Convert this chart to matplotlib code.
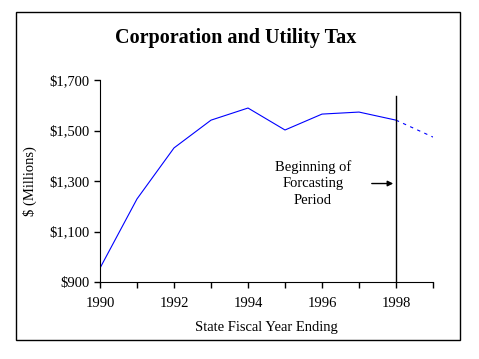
import matplotlib
matplotlib.use("Agg")
import matplotlib.pyplot as plt
from matplotlib.patches import Rectangle
from matplotlib.ticker import FuncFormatter, MultipleLocator

plt.rcParams['font.family'] = ['Liberation Serif', 'DejaVu Serif']

# actual collections
years = [1990, 1991, 1992, 1993, 1994, 1995, 1996, 1997, 1998]
revenue = [955, 1229, 1431, 1541, 1589, 1502, 1565, 1573, 1541]
# forecast
fc_years = [1998, 1999]
fc_revenue = [1541, 1474]

y_ticks = [900, 1100, 1300, 1500, 1700]
x_ticks = [1990, 1992, 1994, 1996, 1998]

fig = plt.figure(figsize=(4.79, 3.59), dpi=100)
fig.patches.append(Rectangle((16 / 479, 1 - 340 / 359), 444 / 479, 328 / 359,
                             transform=fig.transFigure, fill=False,
                             edgecolor='black', linewidth=1))

ax = fig.add_axes([100 / 479, 1 - 282 / 359, 333 / 479, 202 / 359])
ax.plot(years, revenue, color='#0000ff', linewidth=0.8)
ax.plot(fc_years, fc_revenue, color='#0000ff', linewidth=0.8, linestyle=(0, (3, 4)))

ax.axvline(1998, ymin=0, ymax=0.92, color='black', linewidth=1)
ax.annotate('', xy=(1998, 1290), xytext=(1997.27, 1290),
            arrowprops=dict(arrowstyle='-|>', color='black', lw=1, mutation_scale=8))
ax.text(1995.75, 1290, 'Beginning of\nForcasting\nPeriod', ha='center', va='center',
        fontsize=10.5, linespacing=1.35)

ax.set_xlim(1990, 1999)
ax.set_ylim(900, 1700)
ax.set_xticks(x_ticks)
ax.xaxis.set_minor_locator(MultipleLocator(1))
ax.set_yticks(y_ticks)
ax.yaxis.set_major_formatter(FuncFormatter(lambda v, p: f"${v:,.0f}"))
ax.tick_params(direction='out', length=4, width=1, labelsize=10.5)
ax.tick_params(axis='x', pad=7)
ax.tick_params(which='minor', direction='out', length=4, width=1)
ax.spines['top'].set_visible(False)
ax.spines['right'].set_visible(False)

ax.set_xlabel('State Fiscal Year Ending', fontsize=10.5, labelpad=8)
ax.set_ylabel('$ (Millions)', fontsize=10.5, labelpad=9)
fig.text(236 / 479, 1 - 38 / 359, 'Corporation and Utility Tax', ha='center', va='center',
         fontsize=14.5, fontweight='bold')

fig.savefig('out.png', dpi=100)
